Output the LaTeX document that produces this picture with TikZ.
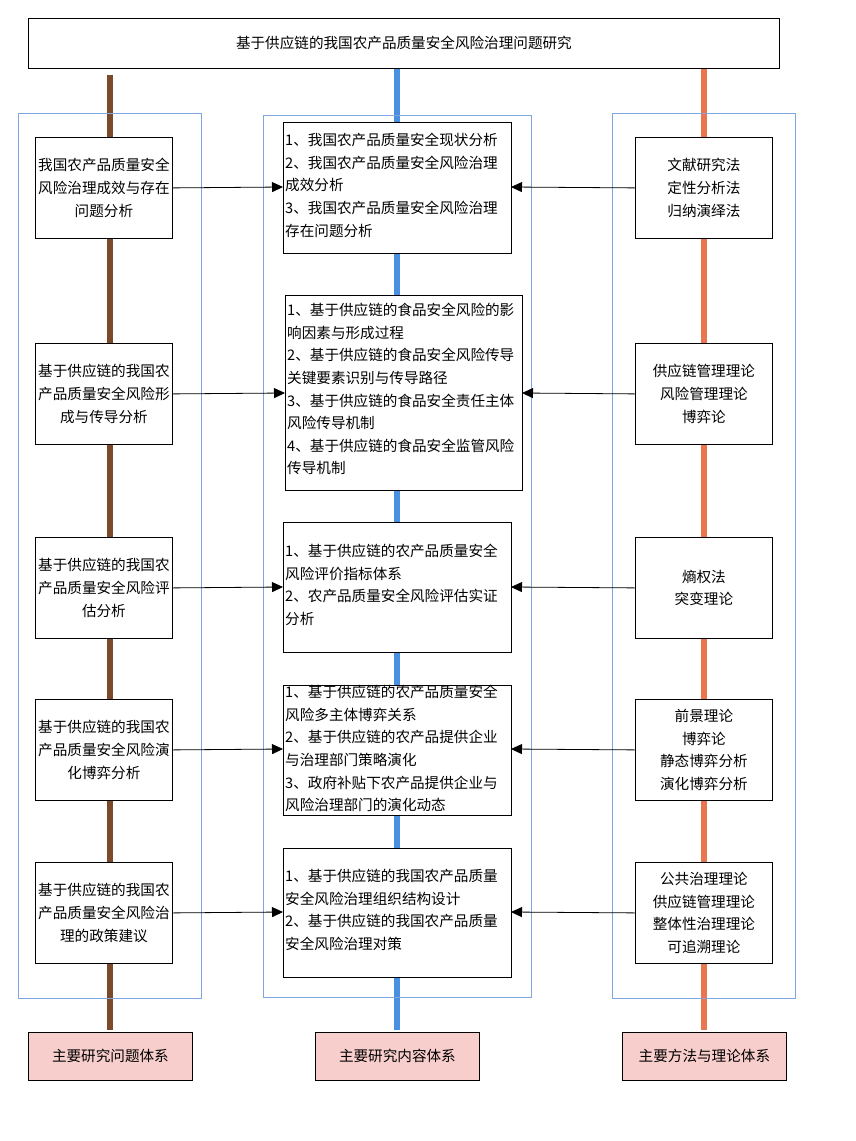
\documentclass[tikz,border=0pt]{standalone}
\usepackage{fontspec}
\setmainfont{Noto Sans CJK SC}
\usetikzlibrary{arrows.meta}
\definecolor{brn}{HTML}{7B4A2A}
\definecolor{blu}{HTML}{4A90E2}
\definecolor{org}{HTML}{E8774F}
\definecolor{frm}{HTML}{7EA6E0}
\definecolor{pnk}{HTML}{F8CECC}
\begin{document}
\begin{tikzpicture}[x=1pt,y=-1pt,
  box/.style={draw,line width=0.8pt,fill=white,inner sep=2pt,font=\fontsize{14.6}{22.8}\selectfont},
  lbox/.style={box,align=center},
  mt/.style={anchor=north west,align=left,font=\fontsize{14.6}{22.6}\selectfont,inner sep=0pt},
  frame/.style={draw=frm,line width=0.9pt},
  vline/.style={line width=6pt},
  arr/.style={-{Triangle[length=11pt,width=10pt]},line width=0.8pt}]
\useasboundingbox (0,0) rectangle (856,1141);
\draw[vline,brn] (110,75) -- (110,1030);
\draw[vline,blu] (397,68) -- (397,1030);
\draw[vline,org] (704,68) -- (704,1030);
\draw[frame] (18,113) rectangle (201,998);
\draw[frame] (263,115) rectangle (531,997);
\draw[frame] (612,113) rectangle (795,998);
\node[box,minimum width=751pt,minimum height=50pt,anchor=north west] (t) at (28,18) {基于供应链的我国农产品质量安全风险治理问题研究};
\foreach \n/\y/\txt in {L1/137/{我国农产品质量安全\\风险治理成效与存在\\问题分析},
  L2/343/{基于供应链的我国农\\产品质量安全风险形\\成与传导分析},
  L3/537/{基于供应链的我国农\\产品质量安全风险评\\估分析},
  L4/699/{基于供应链的我国农\\产品质量安全风险演\\化博弈分析},
  L5/862/{基于供应链的我国农\\产品质量安全风险治\\理的政策建议}}
  \node[lbox,minimum width=137pt,minimum height=101pt,anchor=north west,inner sep=0pt] (\n) at (35,\y) {\txt};
\foreach \n/\y/\txt in {R1/137/{文献研究法\\定性分析法\\归纳演绎法},
  R2/343/{供应链管理理论\\风险管理理论\\博弈论},
  R3/537/{熵权法\\突变理论},
  R4/699/{前景理论\\博弈论\\静态博弈分析\\演化博弈分析},
  R5/862/{公共治理理论\\供应链管理理论\\整体性治理理论\\可追溯理论}}
  \node[lbox,minimum width=137pt,minimum height=101pt,anchor=north west,inner sep=0pt] (\n) at (635,\y) {\txt};
\draw[box] (283,122) rectangle (511,253); \coordinate (M1l) at (283,187); \coordinate (M1r) at (511,187);
\node[mt] (m1) at (285,133) {1、我国农产品质量安全现状分析\\2、我国农产品质量安全风险治理\\成效分析\\3、我国农产品质量安全风险治理\\存在问题分析};
\draw[box] (285,295) rectangle (522,490); \coordinate (M2l) at (285,393); \coordinate (M2r) at (522,393);
\node[mt] (m2) at (287,303) {1、基于供应链的食品安全风险的影\\响因素与形成过程\\2、基于供应链的食品安全风险传导\\关键要素识别与传导路径\\3、基于供应链的食品安全责任主体\\风险传导机制\\4、基于供应链的食品安全监管风险\\传导机制};
\draw[box] (283,522) rectangle (511,652); \coordinate (M3l) at (283,587); \coordinate (M3r) at (511,587);
\node[mt] (m3) at (285,544) {1、基于供应链的农产品质量安全\\风险评价指标体系\\2、农产品质量安全风险评估实证\\分析};
\draw[box] (283,685) rectangle (511,815); \coordinate (M4l) at (283,749); \coordinate (M4r) at (511,749);
\node[mt] (m4) at (285,685) {1、基于供应链的农产品质量安全\\风险多主体博弈关系\\2、基于供应链的农产品提供企业\\与治理部门策略演化\\3、政府补贴下农产品提供企业与\\风险治理部门的演化动态};
\draw[box] (283,848) rectangle (511,977); \coordinate (M5l) at (283,912); \coordinate (M5r) at (511,912);
\node[mt] (m5) at (285,869) {1、基于供应链的我国农产品质量\\安全风险治理组织结构设计\\2、基于供应链的我国农产品质量\\安全风险治理对策};
\foreach \i in {1,...,5}{
  \draw[arr] (L\i.east) -- (M\i l);
  \draw[arr] (R\i.west) -- (M\i r);
}
\foreach \n/\x/\txt in {B1/28/主要研究问题体系,B2/315/主要研究内容体系,B3/622/主要方法与理论体系}
  \node[box,fill=pnk,minimum width=164pt,minimum height=48pt,anchor=north west] (\n) at (\x,1032) {\txt};
\end{tikzpicture}
\end{document}
